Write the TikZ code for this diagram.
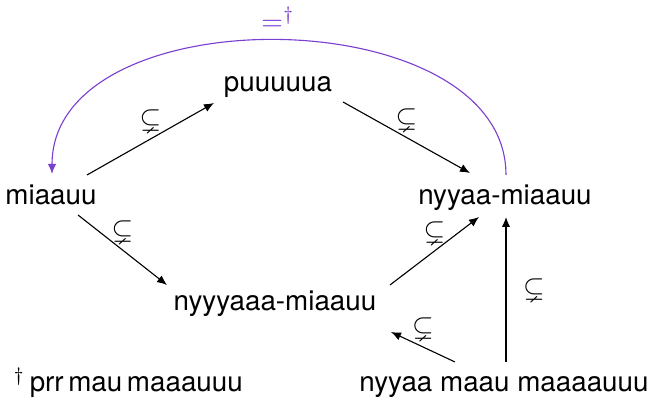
\documentclass[tikz,border=0pt]{standalone}
\usepackage{amssymb}
\usepackage{fontspec}
\setmainfont{TeX Gyre Heros}
\usetikzlibrary{arrows.meta}
\definecolor{vio}{RGB}{123,63,208}
\begin{document}
\begin{tikzpicture}[x=0.36pt,y=-0.36pt,
  every node/.style={font=\fontsize{10}{12}\selectfont},
  state/.style={anchor=base, inner sep=3pt},
  arr/.style={-{Latex[length=3.6pt,width=3pt]}, line width=0.4pt},
  lab/.style={inner sep=2.5pt}]
\useasboundingbox (0,0) rectangle (650,398);
\node[state] (mi) at (51,205) {miaauu};
\node[state] (pu) at (278,92) {puuuuua};
\node[state] (nm) at (505,205) {nyyaa-miaauu};
\node[state] (ny) at (275,311) {nyyyaaa-miaauu};
\node[state] (mm) at (504,392) {nyyaa maau maaaauuu};
\node[anchor=base west, inner sep=0pt] (fn) at (13,392) {$^{\dagger}$\,prr\,mau\,maaauuu};

\draw[arr] ([shift={(36,-30)}]mi.base) -- node[lab, above] {$\subsetneq$} ([shift={(-64,11)}]pu.base);
\draw[arr] ([shift={(65,10)}]pu.base) -- node[lab, above] {$\subsetneq$} ([shift={(-35,-32)}]nm.base);
\draw[arr] ([shift={(27,10)}]mi.base) -- node[lab, above] {$\subsetneq$} ([shift={(-108,-26)}]ny.base);
\draw[arr] ([shift={(115,-26)}]ny.base) -- node[lab, above] {$\subsetneq$} ([shift={(-26,12)}]nm.base);
\draw[arr] ([shift={(-49,-30)}]mm.base) -- node[lab, above] {$\subsetneq$} ([shift={(116,21)}]ny.base);
\draw[arr] ([shift={(2,-30)}]mm.base) -- node[lab, right=3.5pt] {$\subsetneq$} ([shift={(1,12)}]nm.base);

\draw[arr, vio] ([shift={(1,-30)}]nm.base) .. controls (506,-2) and (52,-6) .. ([shift={(1,-31)}]mi.base);
\node[anchor=base, text=vio, inner sep=0pt] (eq) at (278,31) {$=^{\dagger}$};
\end{tikzpicture}
\end{document}
